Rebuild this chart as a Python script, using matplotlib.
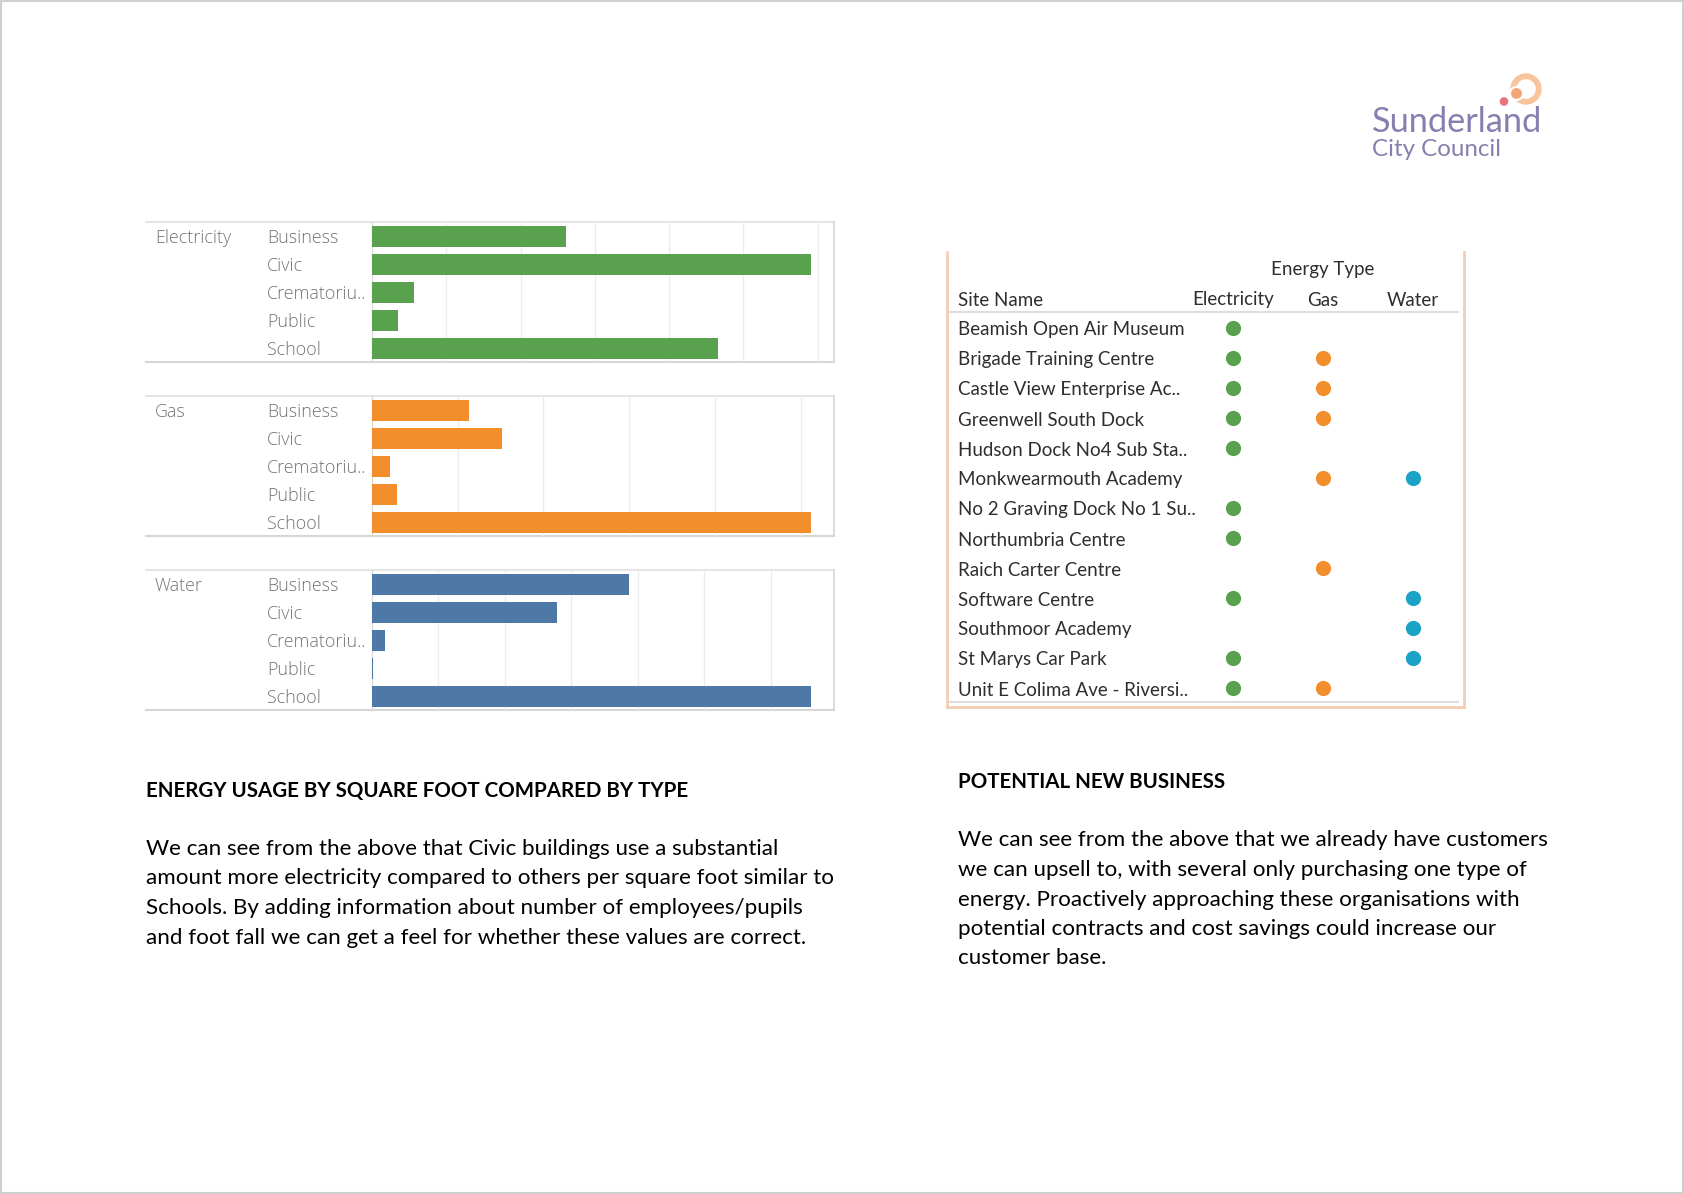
import numpy as np
import matplotlib
matplotlib.use("Agg")
import matplotlib.pyplot as plt
from matplotlib.patches import Circle, Wedge, Rectangle

# ---------------- data ----------------
energy_types = ["Electricity", "Gas", "Water"]
building_types = ["Business", "Civic", "Crematoriu..", "Public", "School"]
electricity_usage = [13.05, 29.55, 2.8, 1.75, 23.3]
gas_usage = [5.65, 7.6, 1.05, 1.45, 25.6]
water_usage = [1.935, 1.395, 0.095, 0.004, 3.3]
usage_tick_steps = [5, 5, 0.5]
usage_axis_max = [31.1, 26.95, 3.475]
bar_colors = ["#59a14f", "#f28e2b", "#4e79a7"]

sites = ["Beamish Open Air Museum", "Brigade Training Centre",
         "Castle View Enterprise Ac..", "Greenwell South Dock",
         "Hudson Dock No4 Sub Sta..", "Monkwearmouth Academy",
         "No 2 Graving Dock No 1 Su..", "Northumbria Centre",
         "Raich Carter Centre", "Software Centre", "Southmoor Academy",
         "St Marys Car Park", "Unit E Colima Ave - Riversi.."]
has_electricity = [1, 1, 1, 1, 1, 0, 1, 1, 0, 1, 0, 1, 1]
has_gas = [0, 1, 1, 1, 0, 1, 0, 0, 1, 0, 0, 0, 1]
has_water = [0, 0, 0, 0, 0, 1, 0, 0, 0, 1, 1, 1, 0]
dot_colors = ["#59a14f", "#f28e2b", "#1ba3c6"]

left_heading = "ENERGY USAGE BY SQUARE FOOT COMPARED BY TYPE"
left_para = ["We can see from the above that Civic buildings use a substantial",
             "amount more electricity compared to others per square foot similar to",
             "Schools. By adding information about number of employees/pupils",
             "and foot fall we can get a feel for whether these values are correct."]
right_heading = "POTENTIAL NEW BUSINESS"
right_para = ["We can see from the above that we already have customers",
              "we can upsell to, with several only purchasing one type of",
              "energy. Proactively approaching these organisations with",
              "potential contracts and cost savings could increase our",
              "customer base."]

# ---------------- figure ----------------
W, H = 1684, 1194
fig = plt.figure(figsize=(W / 100, H / 100), dpi=100)
fig.patch.set_facecolor("white")

bg = fig.add_axes([0, 0, 1, 1])
bg.set_xlim(0, W)
bg.set_ylim(H, 0)
bg.axis("off")
renderer = fig.canvas.get_renderer()


def fit_size(text, width_px, family, weight="normal", base=12.0):
    t = bg.text(0, 0, text, fontsize=base, family=family, weight=weight)
    w = t.get_window_extent(renderer=renderer).width
    t.remove()
    return base * width_px / w


def rect(x0, y0, x1, y1):
    return [x0 / W, 1 - y1 / H, (x1 - x0) / W, (y1 - y0) / H]


# page border
bg.add_patch(Rectangle((1, 1), W - 2.5, H - 2.5, fill=False, edgecolor="#cfcfcf", lw=1.5))

# ---------------- bar panels ----------------
LBL_FONT = "Open Sans"
lbl_size = fit_size("Business", 71, LBL_FONT, weight="light")
lbl_color = "#747474"
panel_rows = [(222, 362), (396, 536), (570, 710)]
usages = [electricity_usage, gas_usage, water_usage]
line_col = "#d6d6d6"
for i, (top, bot) in enumerate(panel_rows):
    ax = fig.add_axes(rect(372, top, 834, bot))
    ax.patch.set_alpha(0)
    y = np.arange(len(building_types))
    ax.barh(y, usages[i], height=0.75, color=bar_colors[i], zorder=3)
    ax.set_ylim(len(building_types) - 0.5, -0.5)
    ax.set_xlim(0, usage_axis_max[i])
    ax.set_xticks(np.arange(usage_tick_steps[i], usage_axis_max[i], usage_tick_steps[i]))
    ax.grid(axis="x", color="#ececec", lw=1, zorder=0)
    ax.tick_params(axis="x", length=0, labelbottom=False)
    ax.set_yticks(y, building_types)
    ax.tick_params(axis="y", length=0, pad=105 * 0.72, labelsize=lbl_size,
                   labelcolor=lbl_color)
    for t in ax.get_yticklabels():
        t.set_ha("left")
        t.set_family(LBL_FONT)
        t.set_weight("light")
    for s in ["top", "bottom"]:
        ax.spines[s].set_visible(False)
    ax.spines["left"].set_color("#dcdcdc")
    ax.spines["left"].set_linewidth(1)
    ax.spines["right"].set_color(line_col)
    ax.spines["right"].set_linewidth(1.2)
    bg.plot([146, 834], [top, top], color="#e0e0e0", lw=1.2)
    bg.plot([146, 834], [bot, bot], color=line_col, lw=1.5)
    bg.text(155, top + 16, energy_types[i], fontsize=lbl_size, family=LBL_FONT,
            weight="light", color=lbl_color, va="center", ha="left")

# ---------------- table ----------------
TBL_FONT = "Lato"
tbl_size = fit_size("Beamish Open Air Museum", 225, TBL_FONT)
tbl_color = "#2e2e2e"
x0p, x1p, y0p, y1p = 946, 1465, 252, 707
col0, col_step = 1233, 90
row0, row_step = 328, 30
tax = fig.add_axes(rect(x0p, y0p, x1p, y1p))
tax.set_xlim((x0p - col0) / col_step, (x1p - col0) / col_step)
tax.set_ylim((y1p - row0) / row_step, (y0p - row0) / row_step)
tax.axis("off")
rows = np.arange(len(sites))
for c, flags in enumerate([has_electricity, has_gas, has_water]):
    r = rows[np.array(flags) == 1]
    tax.scatter(np.full(len(r), c), r, s=120, color=dot_colors[c], zorder=3, linewidths=0)
name_x = (957.5 - col0) / col_step
txt_dy = 2.0 / row_step
for r, name in zip(rows, sites):
    tax.text(name_x, r + txt_dy, name, fontsize=tbl_size, family=TBL_FONT, color=tbl_color,
             va="center", ha="left")
hdr_row = (300 - row0) / row_step
tax.text(name_x, hdr_row, "Site Name", fontsize=tbl_size, family=TBL_FONT,
         color=tbl_color, va="center", ha="left")
for c, e in enumerate(energy_types):
    tax.text(c, hdr_row, e, fontsize=tbl_size, family=TBL_FONT, color=tbl_color,
             va="center", ha="center")
tax.text(1, (270 - row0) / row_step, "Energy Type", fontsize=tbl_size, family=TBL_FONT,
         color=tbl_color, va="center", ha="center")

peach = "#f5cdb3"
bg.plot([948, 1458], [311.5, 311.5], color="#dedede", lw=1.5)
bg.plot([948, 1458], [702, 702], color="#dedede", lw=1.5)
bg.plot([946.5, 946.5], [252, 707], color=peach, lw=2)
bg.plot([1464, 1464], [252, 707], color=peach, lw=2)
bg.plot([946.5, 1464], [707, 707], color=peach, lw=2)

# ---------------- text blocks ----------------
TXT_FONT = "Lato"
para_size = fit_size(left_para[1], 684, TXT_FONT)
head_size = fit_size(left_heading, 541, TXT_FONT, weight="bold")
bg.text(146, 791, left_heading, fontsize=head_size, family=TXT_FONT, weight="bold",
        color="black", va="center", ha="left")
for k, line in enumerate(left_para):
    bg.text(146, 849 + 29.5 * k, line, fontsize=para_size, family=TXT_FONT,
            color="black", va="center", ha="left")
bg.text(958, 782.5, right_heading, fontsize=head_size, family=TXT_FONT, weight="bold",
        color="black", va="center", ha="left")
for k, line in enumerate(right_para):
    bg.text(958, 840.5 + 29.5 * k, line, fontsize=para_size, family=TXT_FONT,
            color="black", va="center", ha="left")

# ---------------- logo ----------------
logo_col = "#8480b0"
s1 = fit_size("Sunderland", 170, "Lato")
s2 = fit_size("City Council", 129, "Lato")
bg.text(1372, 131.5, "Sunderland", fontsize=s1, family="Lato",
        color=logo_col, va="baseline", ha="left")
bg.text(1372, 156, "City Council", fontsize=s2, family="Lato",
        color=logo_col, va="baseline", ha="left")
bg.add_patch(Wedge((1526, 89), 15, 0, 360, width=4.5, color="#f7c49c", zorder=5))
bg.add_patch(Circle((1516.5, 93.5), 6.5, facecolor="#f4a577", edgecolor="white", lw=1.5, zorder=6))
bg.add_patch(Circle((1504, 101.5), 3.6, color="#e8717c", zorder=6))

fig.savefig("out.png", dpi=100, facecolor="white")
